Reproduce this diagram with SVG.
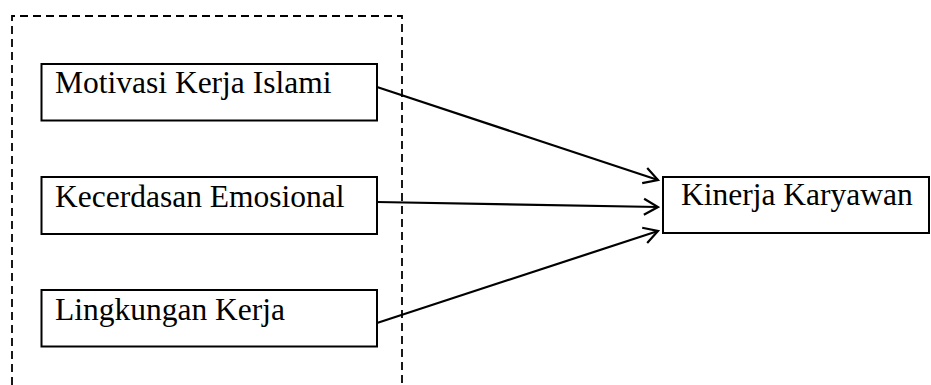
<svg xmlns="http://www.w3.org/2000/svg" width="931" height="385" viewBox="0 0 931 385">
<style>
.box{fill:#fff;stroke:#000;stroke-width:2}
.lbl{font-family:"Liberation Serif","Times New Roman",serif;font-size:31.5px;fill:#000}
.con{stroke:#000;stroke-width:2.2;fill:none}
</style>
<defs>
<marker id="arr" markerUnits="userSpaceOnUse" viewBox="-16 -10 18 20" markerWidth="18" markerHeight="20" refX="0" refY="0" orient="auto">
<path d="M-14,-8 L0,0 L-14,8" fill="none" stroke="#000" stroke-width="2.2"/>
</marker>
</defs>
<path id="group-border" d="M12,385 L12,16 L402,16 L402,385" fill="none" stroke="#000" stroke-width="1.8" stroke-dasharray="8,5"/>
<g id="n-motivasi">
<rect class="box" x="41.5" y="64" width="335.5" height="56.5"/>
<text class="lbl" x="55" y="93.3">Motivasi Kerja Islami</text>
</g>
<g id="n-kecerdasan">
<rect class="box" x="41.5" y="177" width="335.5" height="57"/>
<text class="lbl" x="55" y="206.5">Kecerdasan Emosional</text>
</g>
<g id="n-lingkungan">
<rect class="box" x="41.5" y="290" width="335.5" height="56.5"/>
<text class="lbl" x="55" y="320">Lingkungan Kerja</text>
</g>
<g id="n-kinerja">
<rect class="box" x="663" y="177" width="266" height="56"/>
<text class="lbl" x="681" y="205">Kinerja Karyawan</text>
</g>
<g id="connectors">
<line class="con" x1="377" y1="87" x2="658" y2="180" marker-end="url(#arr)"/>
<line class="con" x1="377" y1="202" x2="658" y2="207" marker-end="url(#arr)"/>
<line class="con" x1="377" y1="323" x2="658" y2="231" marker-end="url(#arr)"/>
</g>
</svg>
